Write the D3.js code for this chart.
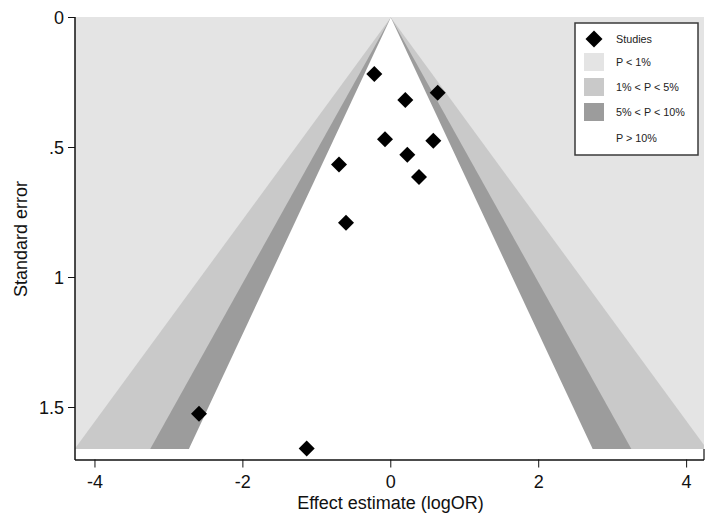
<!DOCTYPE html>
<html><head><meta charset="utf-8">
<script src="https://cdn.jsdelivr.net/npm/d3@7"></script>
<style>
html,body{margin:0;padding:0;background:#fff;}
text{font-family:Arial,"Liberation Sans",sans-serif;}
</style></head>
<body>
<svg id="chart" width="714" height="521"></svg>
<script>
// Study data (effect = logOR, se = standard error)
const effects = [-0.223, 0.196, 0.634, -0.078, 0.575, 0.223, -0.700, 0.381, -0.606, -2.593, -1.137];
const ses     = [0.217, 0.317, 0.289, 0.468, 0.474, 0.528, 0.565, 0.613, 0.789, 1.524, 1.658];
// Contour z-values (1%, 5%, 10% two-sided)
const contourZ = [2.576, 1.96, 1.645];
const contourFills = ["#c9c9c9", "#9c9c9c", "#ffffff"];
const xTicks = [-4, -2, 0, 2, 4];
const xTickLabels = ["-4", "-2", "0", "2", "4"];
const yTicks = [0, 0.5, 1, 1.5];
const yTickLabels = ["0", ".5", "1", "1.5"];
const legendLabels = ["Studies", "P < 1%", "1% < P < 5%", "5% < P < 10%", "P > 10%"];
const legendFills = [null, "#e4e4e4", "#c9c9c9", "#9c9c9c", null];

const svg = d3.select("#chart");
const pLeft = 75, pRight = 704, pTop = 17.5, pBottom = 459.5;
const x = d3.scaleLinear().domain([-4.27, 4.235]).range([pLeft, pRight]);
const y = d3.scaleLinear().domain([0, 1.7]).range([pTop, pBottom]);
const seMax = d3.max(ses);
const shadeBottom = Math.round(y(seMax));

svg.append("clipPath").attr("id", "clip").append("rect")
  .attr("x", pLeft).attr("y", 17).attr("width", pRight - pLeft).attr("height", shadeBottom - 17);

const g = svg.append("g").attr("clip-path", "url(#clip)");
// background P<1%
g.append("rect").attr("x", pLeft).attr("y", 17).attr("width", pRight - pLeft)
  .attr("height", shadeBottom - 17).attr("fill", "#e4e4e4");
contourZ.forEach((z, i) => {
  const pts = [[0, 0], [-z * seMax * 1.01, seMax * 1.01], [z * seMax * 1.01, seMax * 1.01]];
  g.append("path")
    .attr("d", "M" + pts.map(p => x(p[0]) + "," + y(p[1])).join("L") + "Z")
    .attr("fill", contourFills[i]);
});

// points
const diamond = r => `M0,${-r}L${r},0L0,${r}L${-r},0Z`;
svg.append("g").selectAll("path").data(effects).join("path")
  .attr("d", diamond(8))
  .attr("transform", (d, i) => `translate(${x(d)},${y(ses[i])})`)
  .attr("fill", "#000");

// axes
const axisColor = "#111";
svg.append("line").attr("x1", pLeft).attr("x2", pLeft).attr("y1", pTop - 0.5).attr("y2", pBottom + 0.5)
  .attr("stroke", axisColor).attr("stroke-width", 1.5);
svg.append("line").attr("x1", pLeft).attr("x2", pRight).attr("y1", pBottom + 0.5).attr("y2", pBottom + 0.5)
  .attr("stroke", axisColor).attr("stroke-width", 1.5);
svg.append("line").attr("x1", pRight).attr("x2", pRight).attr("y1", shadeBottom).attr("y2", pBottom + 0.5)
  .attr("stroke", axisColor).attr("stroke-width", 1.2);

const yg = svg.append("g");
yTicks.forEach((t, i) => {
  yg.append("line").attr("x1", pLeft - 7).attr("x2", pLeft).attr("y1", y(t)).attr("y2", y(t))
    .attr("stroke", axisColor).attr("stroke-width", 1);
  yg.append("text").attr("x", 64).attr("y", y(t)).attr("dy", "0.36em")
    .attr("text-anchor", "end").attr("font-size", 18).attr("fill", "#111").text(yTickLabels[i]);
});
const xg = svg.append("g");
xTicks.forEach((t, i) => {
  xg.append("line").attr("x1", x(t)).attr("x2", x(t)).attr("y1", pBottom).attr("y2", pBottom + 8)
    .attr("stroke", axisColor).attr("stroke-width", 1);
  xg.append("text").attr("x", x(t)).attr("y", 487.5)
    .attr("text-anchor", "middle").attr("font-size", 18).attr("fill", "#111").text(xTickLabels[i]);
});
svg.append("text").attr("x", 390.5).attr("y", 508.5).attr("text-anchor", "middle")
  .attr("font-size", 18).attr("fill", "#111").text("Effect estimate (logOR)");
svg.append("text").attr("transform", "translate(26.5,239) rotate(-90)").attr("text-anchor", "middle")
  .attr("font-size", 18).attr("fill", "#111").text("Standard error");

// legend
const lg = svg.append("g");
lg.append("rect").attr("x", 575).attr("y", 23).attr("width", 123).attr("height", 132)
  .attr("fill", "#fff").attr("stroke", "#3a3a3a").attr("stroke-width", 1.5);
const rowY = [39, 62, 87, 112, 138.5];
legendLabels.forEach((lab, i) => {
  if (i === 0) {
    lg.append("path").attr("d", diamond(8.5)).attr("transform", `translate(594,${rowY[i]})`).attr("fill", "#000");
  } else if (legendFills[i]) {
    lg.append("rect").attr("x", 584).attr("y", rowY[i] - 9).attr("width", 20).attr("height", 18)
      .attr("fill", legendFills[i]);
  }
  lg.append("text").attr("x", 616).attr("y", rowY[i]).attr("dy", "0.36em")
    .attr("font-size", 10.8).attr("fill", "#222").text(lab);
});
</script>
</body></html>
